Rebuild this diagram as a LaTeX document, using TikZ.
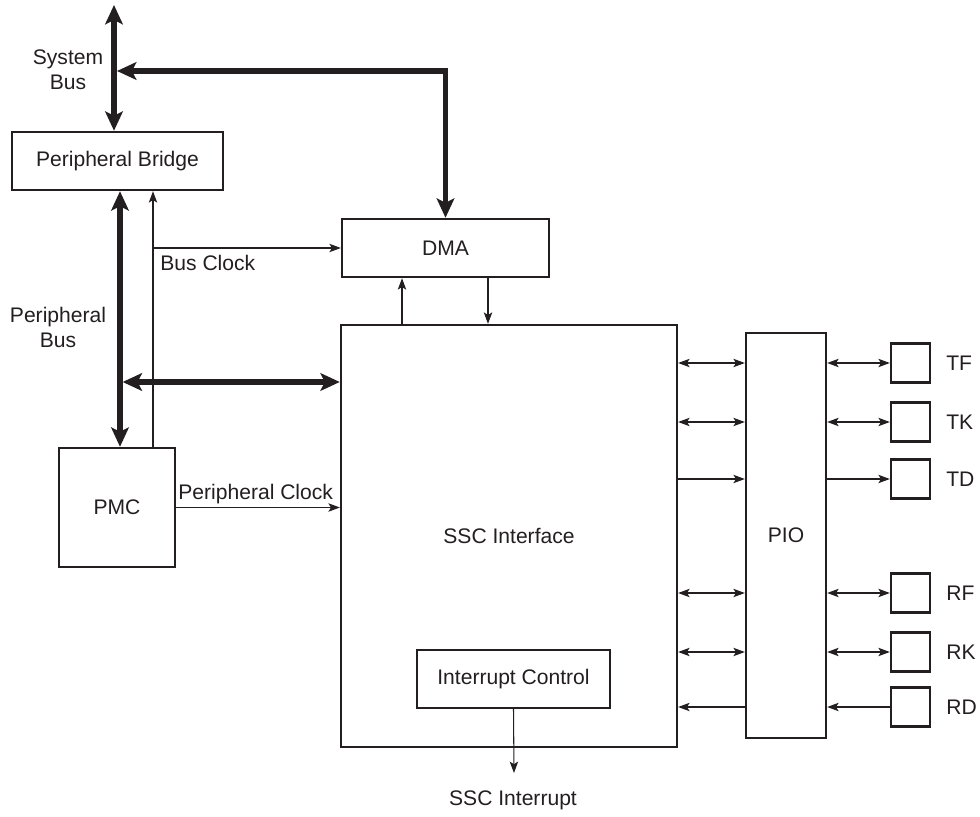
\documentclass[tikz,border=0pt]{standalone}
\usepackage{fontspec}
\setmainfont{Liberation Sans}
\usetikzlibrary{arrows.meta}
\definecolor{ink}{HTML}{231F20}

\begin{document}
\begin{tikzpicture}[x=0.02cm,y=-0.02cm,color=ink,font=\fontsize{12}{14}\selectfont,
  box/.style={draw,line width=1.4pt,inner sep=0pt},
  pinbox/.style={box,minimum width=0.78cm,minimum height=0.78cm},
  bus/.style={line width=2.9pt,>={Stealth[length=11pt,width=10pt,inset=2.5pt]}},
  sig/.style={line width=0.6pt,>={Stealth[length=6.5pt,width=4.8pt,inset=1.5pt]}}]
\useasboundingbox (0,0) rectangle (980,817);
\node[box,minimum width=4.22cm,minimum height=1.16cm] (bridge) at (117.5,161) {Peripheral Bridge};
\node[box,minimum width=4.14cm,minimum height=1.16cm] (dma) at (445.5,248) {DMA};
\node[box,minimum width=6.72cm,minimum height=8.44cm] (ssc) at (509,536) {SSC Interface};
\node[box,minimum width=2.32cm,minimum height=2.38cm] (pmc) at (117,507.5) {PMC};
\node[box,minimum width=3.86cm,minimum height=1.16cm] (intctl) at (513.5,679) {Interrupt Control};
\node[box,minimum width=1.6cm,minimum height=8.1cm] (pio) at (786,535.5) {PIO};
\foreach \name/\y in {TF/363,TK/422,TD/479,RF/593,RK/652,RD/707}{
  \node[pinbox] (\name) at (910.5,\y) {};
  \node[anchor=west,inner sep=0pt] (\name lbl) at (946,\y) {\name};
}
\node[align=center] (syslbl) at (68,69.5) {System\\Bus};
\node[align=center] (pbuslbl) at (58,327.5) {Peripheral\\Bus};
\node[anchor=west,inner sep=0pt] (busclk) at (160,263) {Bus Clock};
\node[anchor=west,inner sep=0pt] (pclk) at (178,494) {Peripheral Clock};
\node (irqlbl) at (513,800) {SSC Interrupt};
\coordinate (systop) at (114,5);
\coordinate (sysjoin) at (117,71);
\coordinate (pbus) at (120,382);
\coordinate (clk) at (153,248);
\coordinate (dmaup) at (402,300);
\coordinate (dmadn) at (488,300);
\coordinate (irq) at (514,773);
% buses
\draw[bus,<->] (systop) -- (systop |- bridge.north);
\draw[bus,<->] (sysjoin) -| (dma.north);
\draw[bus,<->] (pbus |- bridge.south) -- (pbus |- pmc.north);
\draw[bus,<->,shorten <=1.5pt] (pbus) -- (pbus -| ssc.west);
% clocks and control
\draw[sig,->] (clk |- pmc.north) -- (clk |- bridge.south);
\draw[sig,->] (clk) -- (clk -| dma.west);
\draw[sig,->] (pmc.east) -- (pmc.east -| ssc.west);
\draw[sig,->] (dmaup |- ssc.north) -- (dmaup |- dma.south);
\draw[sig,->] (dmadn |- dma.south) -- (dmadn |- ssc.north);
\draw[sig,->] (intctl.south) -- (irq);
% pins
\draw[sig,<->] (ssc.east |- TF) -- (pio.west |- TF);
\draw[sig,<->] (pio.east |- TF) -- (TF.west);
\draw[sig,<->] (ssc.east |- TK) -- (pio.west |- TK);
\draw[sig,<->] (pio.east |- TK) -- (TK.west);
\draw[sig,->] (ssc.east |- TD) -- (pio.west |- TD);
\draw[sig,->] (pio.east |- TD) -- (TD.west);
\draw[sig,<->] (ssc.east |- RF) -- (pio.west |- RF);
\draw[sig,<->] (pio.east |- RF) -- (RF.west);
\draw[sig,<->] (ssc.east |- RK) -- (pio.west |- RK);
\draw[sig,<->] (pio.east |- RK) -- (RK.west);
\draw[sig,<-] (ssc.east |- RD) -- (pio.west |- RD);
\draw[sig,<-] (pio.east |- RD) -- (RD.west);
\end{tikzpicture}
\end{document}
